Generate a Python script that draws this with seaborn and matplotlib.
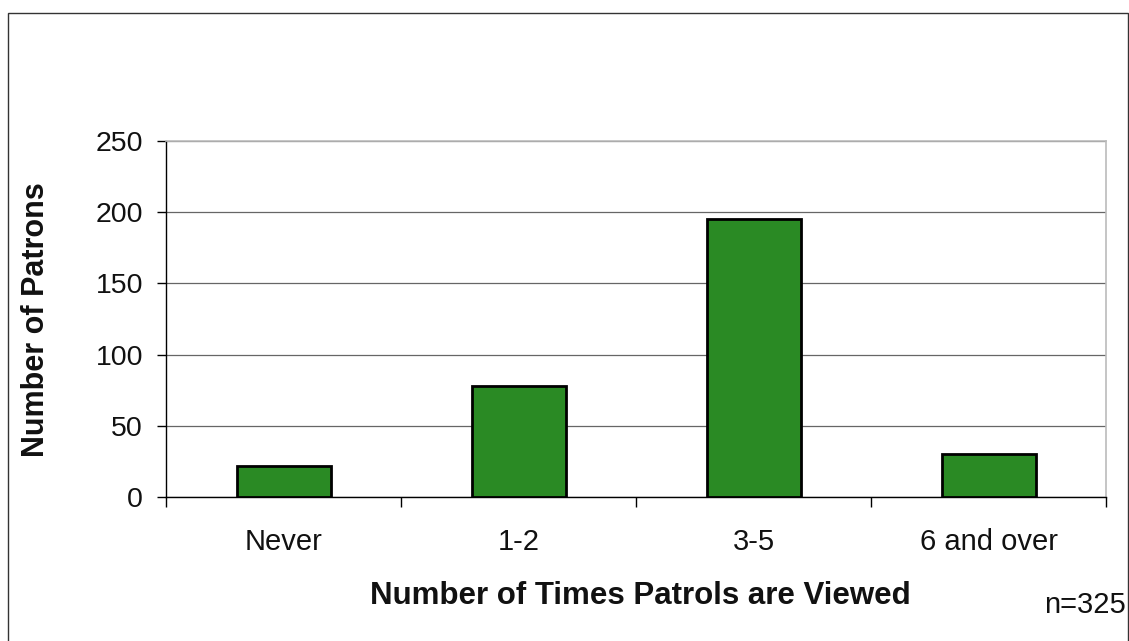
import matplotlib
matplotlib.use("Agg")
import matplotlib.pyplot as plt
import seaborn as sns
import pandas as pd
from matplotlib.patches import Rectangle

categories = ["Never", "1-2", "3-5", "6 and over"]
patrons = [22, 78, 195, 30]
y_ticks = [0, 50, 100, 150, 200, 250]
x_title = "Number of Times Patrols are Viewed"
y_title = "Number of Patrons"
sample_note = "n=325"

sns.set_theme(style="white")
plt.rcParams["font.family"] = ["Liberation Sans", "DejaVu Sans"]

df = pd.DataFrame({"category": categories, "patrons": patrons})

fig = plt.figure(figsize=(11.29, 6.41), dpi=100)
ax = fig.add_axes([166 / 1129, 1 - 497 / 641, 940 / 1129, 356 / 641])

sns.barplot(data=df, x="category", y="patrons", ax=ax, color="#2a8a24",
            saturation=1, width=0.40, edgecolor="black", linewidth=2, zorder=3)

ax.set_xlim(-0.5, len(categories) - 0.5)
ax.set_ylim(0, 250)
ax.set_yticks(y_ticks)
ax.set_yticklabels([str(t) for t in y_ticks], fontsize=20.5, color="#111111")
ax.tick_params(axis="y", which="major", length=6.5, width=1, color="black",
               direction="out", left=True, pad=10)

# category labels sit between boundary ticks
ax.set_xticks(range(len(categories)))
ax.set_xticklabels(categories, fontsize=21, color="#111111")
ax.tick_params(axis="x", which="major", length=0, pad=22)
ax.set_xticks([i - 0.5 for i in range(len(categories) + 1)], minor=True)
ax.tick_params(axis="x", which="minor", length=7, width=1, color="black",
               direction="out", bottom=True)

ax.grid(axis="y", color="#666666", linewidth=0.9, zorder=0)
ax.set_axisbelow(True)
for side in ["left", "bottom"]:
    ax.spines[side].set_color("black")
    ax.spines[side].set_linewidth(1.0)
for side in ["top", "right"]:
    ax.spines[side].set_visible(True)
    ax.spines[side].set_color("#bbbbbb")
    ax.spines[side].set_linewidth(1.2)

ax.set_xlabel("")
ax.set_ylabel("")
fig.text(36 / 1129, 1 - 320 / 641, y_title, rotation=90, ha="center",
         va="center", fontsize=22, fontweight="bold", color="#111111")
fig.text(640 / 1129, 1 - 596 / 641, x_title, ha="center", va="center",
         fontsize=22.5, fontweight="bold", color="#111111")
fig.text(1085 / 1129, 1 - 605 / 641, sample_note, ha="center", va="center",
         fontsize=21, color="#111111")

# outer chart frame
fig.patches.append(Rectangle((8 / 1129, -0.05), 1120 / 1129, 1 - 13 / 641 + 0.05,
                             transform=fig.transFigure, fill=False,
                             edgecolor="#333333", linewidth=1.0))

fig.savefig("out.png", dpi=100, facecolor="white")
